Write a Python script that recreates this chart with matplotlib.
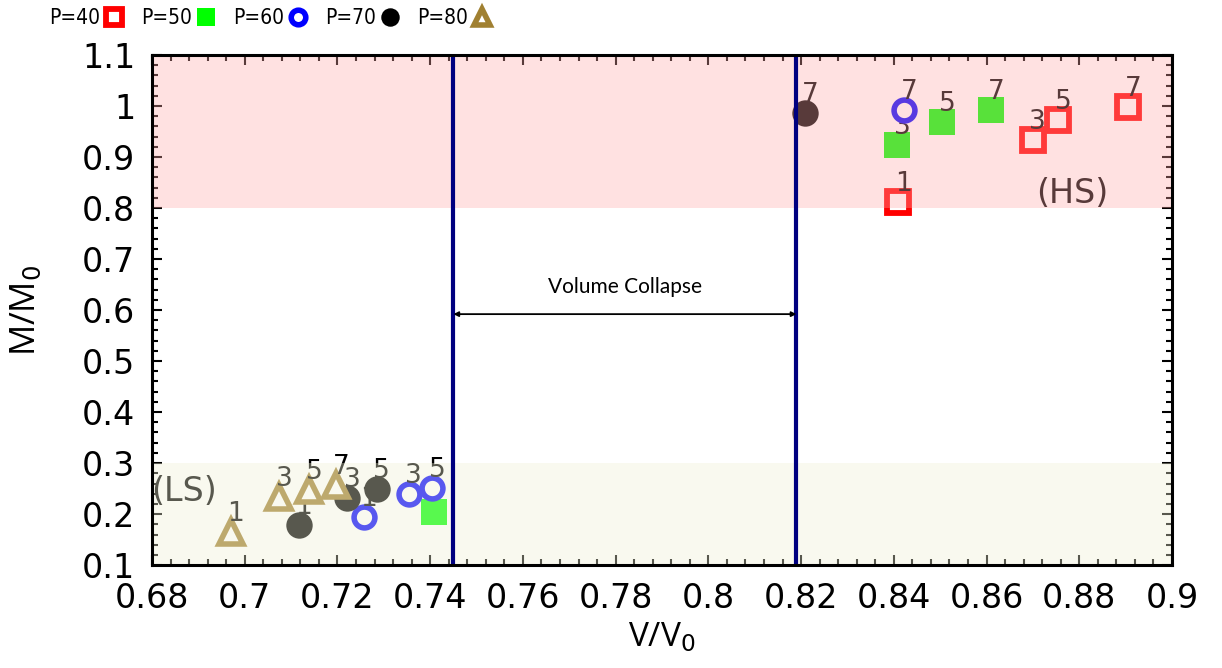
import matplotlib
matplotlib.use('Agg')
import matplotlib.pyplot as plt
from matplotlib.ticker import MultipleLocator, FormatStrFormatter

# Data (V/V0, M/M0, step label)
p40_v = [0.841, 0.870, 0.8755, 0.8905]
p40_m = [0.812, 0.933, 0.973, 0.998]
p40_lab = ['1', '3', '5', '7']

p50_v = [0.7408, 0.8407, 0.8504, 0.861]
p50_m = [0.204, 0.924, 0.969, 0.992]
p50_lab = ['', '3', '5', '7']

p60_v = [0.7257, 0.7354, 0.7404, 0.8422]
p60_m = [0.194, 0.239, 0.251, 0.992]
p60_lab = ['1', '3', '5', '7']

p70_v = [0.7117, 0.7221, 0.7285, 0.8209]
p70_m = [0.178, 0.231, 0.249, 0.986]
p70_lab = ['1', '3', '5', '7']

p80_v = [0.697, 0.7074, 0.7139, 0.7197]
p80_m = [0.165, 0.233, 0.247, 0.257]
p80_lab = ['1', '3', '5', '7']

names = ['P=40', 'P=50', 'P=60', 'P=70', 'P=80']

collapse_lo, collapse_hi = 0.745, 0.819

fig = plt.figure(figsize=(12.22, 6.68), dpi=100)
ax = fig.add_axes([0.1244, 0.154, 0.8347, 0.7637])

series = [
    (p40_v, p40_m, p40_lab, dict(marker='s', ms=16, mfc='white', mec='#ff0000', mew=4.2)),
    (p50_v, p50_m, p50_lab, dict(marker='s', ms=19, mfc='#00ff00', mec='#00ff00', mew=0)),
    (p60_v, p60_m, p60_lab, dict(marker='o', ms=15, mfc='white', mec='#0000ff', mew=4.0)),
    (p70_v, p70_m, p70_lab, dict(marker='o', ms=19, mfc='black', mec='black', mew=0)),
    (p80_v, p80_m, p80_lab, dict(marker='^', ms=17, mfc='white', mec='#a08031', mew=4.0)),
]

handles = []
for (v, m, lab, st), nm in zip(series, names):
    h, = ax.plot(v, m, ls='none', zorder=2, label=nm, **st)
    handles.append(h)
    for x, y, t in zip(v, m, lab):
        if t:
            ax.annotate(t, (x, y), xytext=(3.5, 8), textcoords='offset points',
                        ha='center', va='baseline', fontsize=19, color='black', zorder=2)

# shaded regions sit on top of the points (translucent)
ax.axhspan(0.8, 1.1, color=(1.0, 0.663, 0.663), alpha=0.35, lw=0, zorder=3)
ax.axhspan(0.1, 0.3, color=(0.945, 0.945, 0.84), alpha=0.37, lw=0, zorder=3)
ax.text(0.6797, 0.245, '(LS)', fontsize=24, ha='left', va='center', zorder=2)
ax.text(0.8785, 0.829, '(HS)', fontsize=24, ha='center', va='center', zorder=2)

ax.axvline(collapse_lo, color='#000080', lw=3, zorder=4)
ax.axvline(collapse_hi, color='#000080', lw=3, zorder=4)
ax.annotate('', xy=(collapse_lo, 0.592), xytext=(collapse_hi, 0.592),
            arrowprops=dict(arrowstyle='<|-|>', color='black', lw=1.3,
                            mutation_scale=7, shrinkA=0, shrinkB=0), zorder=4)
ax.text((collapse_lo + collapse_hi) / 2, 0.645, 'Volume Collapse', fontsize=15,
        family='Lato', ha='center', va='center', zorder=4)

ax.set_xlim(0.68, 0.9)
ax.set_ylim(0.1, 1.1)
ax.xaxis.set_major_locator(MultipleLocator(0.02))
ax.xaxis.set_minor_locator(MultipleLocator(0.004))
ax.yaxis.set_major_locator(MultipleLocator(0.1))
ax.yaxis.set_minor_locator(MultipleLocator(0.02))
ax.xaxis.set_major_formatter(FormatStrFormatter('%g'))
ax.yaxis.set_major_formatter(FormatStrFormatter('%g'))
ax.set_axisbelow(True)
ax.tick_params(which='both', direction='in', top=True, right=True, width=1.5,
               labelsize=24, pad=12)
ax.tick_params(which='major', length=7)
ax.tick_params(which='minor', length=4)
for s in ax.spines.values():
    s.set_linewidth(2.2)
    s.set_zorder(5)

ax.set_xlabel(r'V/V$_0$', fontsize=24, family='Open Sans', labelpad=4)
ax.set_ylabel(r'M/M$_0$', fontsize=25, family='Open Sans', labelpad=28)

fig.legend(handles=handles, ncol=5, markerfirst=False, frameon=False,
           loc='center', bbox_to_anchor=(0.221, 0.973),
           prop=dict(family='DejaVu Sans', stretch='condensed', size=15),
           markerscale=0.7, handlelength=0.8, handletextpad=0.27,
           columnspacing=0.9, borderaxespad=0, borderpad=0)

fig.savefig('out.png', dpi=100)
